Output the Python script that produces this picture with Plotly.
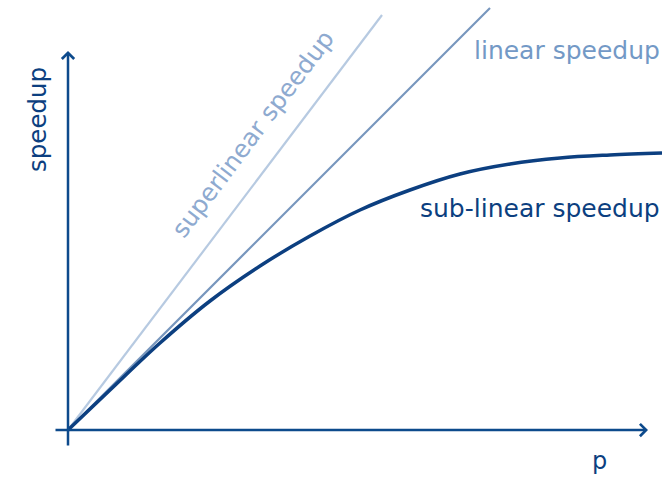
import plotly.graph_objects as go

# data (p = processors, speedup), origin at (0,0)
p_super = [0, 31.4]
s_super = [0, 41.5]
p_linear = [0, 42.2]
s_linear = [0, 42.2]
p_sub = [0, 4.2, 9.2, 14.2, 19.2, 24.2, 29.2, 34.2, 39.2, 44.2, 49.2, 54.2, 59.4]
s_sub = [0, 4.0, 8.7, 12.9, 16.4, 19.4, 22.0, 24.0, 25.6, 26.6, 27.2, 27.5, 27.7]

X_RANGE = [-6.8, 60.2]
Y_RANGE = [-4.8, 43.0]
X_AXIS_EXT = [-1.4, 58.0]
Y_AXIS_EXT = [-1.7, 37.9]

NAVY = "#0c3f80"
AXIS = "#0d4a8c"
LIN = "#7796bd"
SUP = "#b7cae1"
FONT = "DejaVu Sans"

fig = go.Figure()
fig.add_trace(go.Scatter(x=p_super, y=s_super, mode="lines",
                         line=dict(color=SUP, width=2.2), hoverinfo="skip"))
fig.add_trace(go.Scatter(x=p_linear, y=s_linear, mode="lines",
                         line=dict(color=LIN, width=2.2), hoverinfo="skip"))
fig.add_trace(go.Scatter(x=p_sub, y=s_sub, mode="lines",
                         line=dict(color=NAVY, width=3.5, shape="spline", smoothing=1.0),
                         hoverinfo="skip"))

# axes arrows
fig.add_annotation(x=X_AXIS_EXT[1], y=0, ax=X_AXIS_EXT[0], ay=0, xref="x", yref="y",
                   axref="x", ayref="y", showarrow=True, arrowhead=4, arrowwidth=2.5,
                   arrowsize=0.95, arrowcolor=AXIS, text="", standoff=0)
fig.add_annotation(x=0, y=Y_AXIS_EXT[1], ax=0, ay=Y_AXIS_EXT[0], xref="x", yref="y",
                   axref="x", ayref="y", showarrow=True, arrowhead=4, arrowwidth=2.5,
                   arrowsize=0.95, arrowcolor=AXIS, text="", standoff=0)

labels = [
    dict(text="speedup", x=-3.1, y=31.0, color=NAVY, angle=-90, size=24.5),
    dict(text="p", x=53.1, y=-3.1, color=NAVY, angle=0, size=24),
    dict(text="linear speedup", x=49.9, y=38.0, color="#7399c6", angle=0, size=25),
    dict(text="sub-linear speedup", x=47.2, y=22.2, color=NAVY, angle=0, size=25),
    dict(text="superlinear speedup", x=18.4, y=29.6, color="#8eaad0", angle=-53, size=24.5),
]
for lb in labels:
    fig.add_annotation(x=lb["x"], y=lb["y"], xref="x", yref="y", text=lb["text"],
                       showarrow=False, textangle=lb["angle"],
                       font=dict(family=FONT, size=lb["size"], color=lb["color"]))

fig.update_layout(
    width=670, height=478, margin=dict(l=0, r=0, t=0, b=0),
    paper_bgcolor="white", plot_bgcolor="white", showlegend=False,
    xaxis=dict(range=X_RANGE, visible=False, fixedrange=True),
    yaxis=dict(range=Y_RANGE, visible=False, fixedrange=True),
)
fig.write_html("out.html", config={"displayModeBar": False},
               post_script="document.body.style.margin='0px';")
